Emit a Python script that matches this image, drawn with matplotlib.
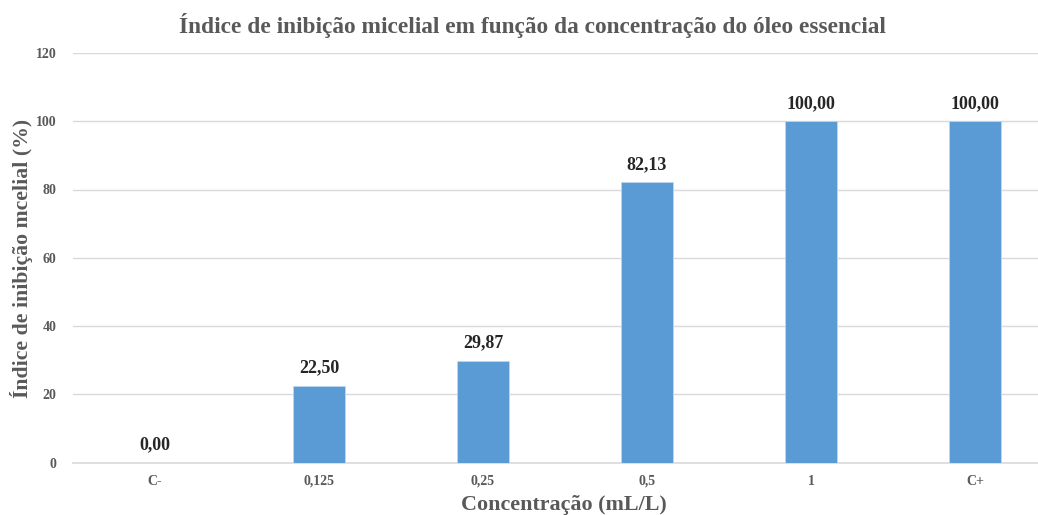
import matplotlib.pyplot as plt
import numpy as np

categories = ["C-", "0,125", "0,25", "0,5", "1", "C+"]
values = [0.00, 22.50, 29.87, 82.13, 100.00, 100.00]
yticks = [0, 20, 40, 60, 80, 100, 120]

TEXT = "#595959"
BAR = "#5B9BD5"
GRID = "#D9D9D9"

plt.rcParams['font.family'] = ['Liberation Serif', 'DejaVu Serif']

fig = plt.figure(figsize=(10.38, 5.15), dpi=100)
# axes runs a bit past the right edge, like the cropped original
ax = fig.add_axes([73 / 1038, 52.5 / 515, 984 / 1038, 409.5 / 515])

x = np.arange(len(categories))
bars = ax.bar(x, values, width=0.32, color=BAR, edgecolor="#BDD7EE", linewidth=0.6, zorder=3)

for xi, v in zip(x, values):
    ax.text(xi, v + 2.7, ("%.2f" % v).replace(".", ","), ha="center", va="bottom",
            fontsize=13, fontweight="bold", color="#262626")

ax.set_xlim(-0.5, len(categories) - 0.5)
ax.set_ylim(0, 120)
ax.set_yticks(yticks)
ax.set_yticklabels([str(t) for t in yticks], fontsize=10, fontweight="bold", color=TEXT)
ax.set_xticks(x)
ax.set_xticklabels(categories, fontsize=10, fontweight="bold", color=TEXT)
ax.tick_params(axis="both", length=0)
ax.tick_params(axis="y", pad=12)
ax.tick_params(axis="x", pad=9)

ax.grid(axis="y", color=GRID, linewidth=1, zorder=0)
for side in ["top", "right", "left"]:
    ax.spines[side].set_visible(False)
ax.spines["bottom"].set_color(GRID)
ax.spines["bottom"].set_linewidth(1.2)

fig.text(532 / 1038, 1 - 25 / 515, "Índice de inibição micelial em função da concentração do óleo essencial",
         ha="center", va="center", fontsize=16.8, fontweight="bold", color=TEXT)
fig.text(564 / 1038, 1 - 505 / 515, "Concentração (mL/L)", ha="center", va="center",
         fontsize=15.8, fontweight="bold", color=TEXT)
fig.text(22 / 1038, 1 - 258 / 515, "Índice de inibição mcelial (%)", ha="center", va="center",
         rotation=90, fontsize=15.7, fontweight="bold", color=TEXT)

fig.savefig("out.png", dpi=100)
